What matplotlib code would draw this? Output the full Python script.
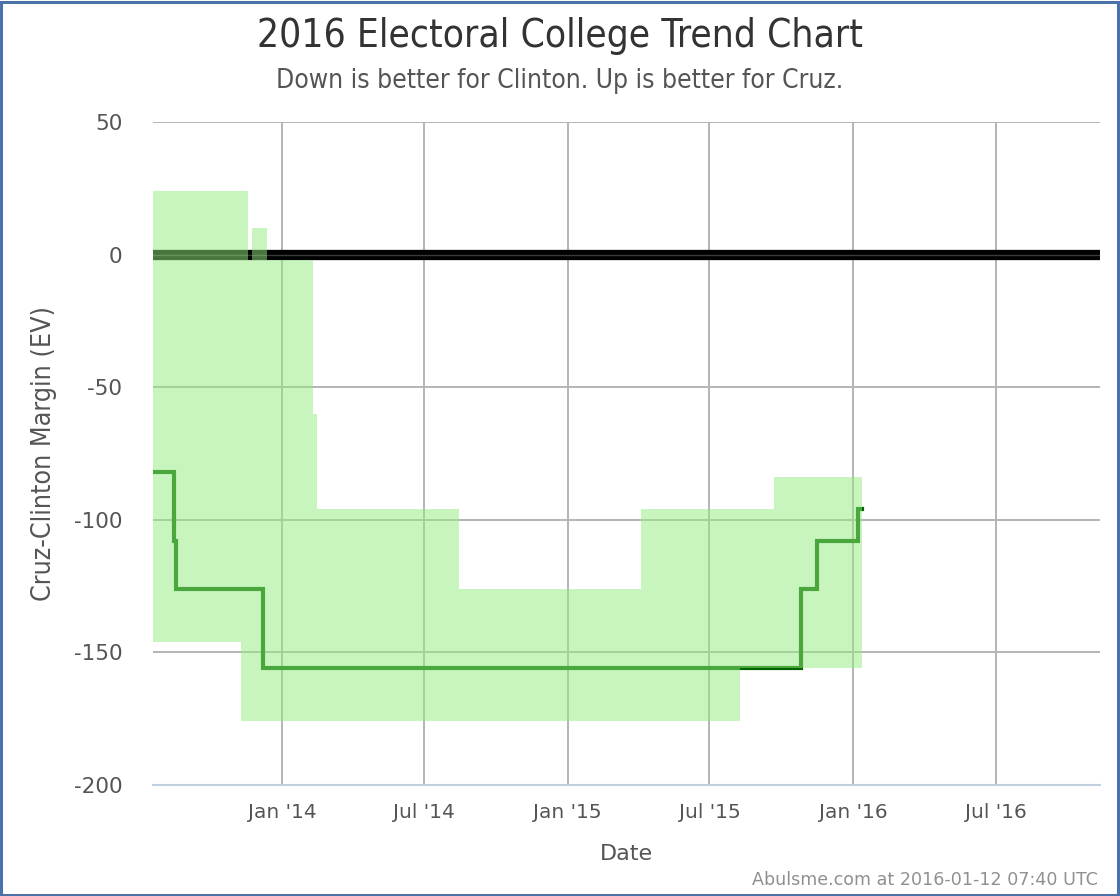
import matplotlib
matplotlib.use("Agg")
import matplotlib.pyplot as plt
from matplotlib.patches import Rectangle
import datetime as dt

# ---- data ----
band_dates = ["2013-07-20", "2013-11-09", "2013-11-19", "2013-11-23", "2013-12-13",
              "2014-02-09", "2014-02-14", "2014-08-15", "2015-04-05", "2015-08-09",
              "2015-09-21", "2016-01-12"]
band_lo = [-146, -176, -176, -176, -176, -176, -176, -176, -176, -156, -156, -156]
band_hi = [24, 24, -2, 10, -2, -60, -96, -126, -96, -96, -84, -84]

line_dates = ["2013-07-20", "2013-08-16", "2013-08-19", "2013-12-07", "2015-10-26",
              "2015-11-15", "2016-01-07", "2016-01-12"]
line_vals = [-82, -108, -126, -156, -126, -108, -96, -96]

tick_dates = ["2014-01-01", "2014-07-01", "2015-01-01", "2015-07-01", "2016-01-01", "2016-07-01"]
tick_labels = ["Jan '14", "Jul '14", "Jan '15", "Jul '15", "Jan '16", "Jul '16"]
y_ticks = [50, 0, -50, -100, -150, -200]

x_start, x_end = "2013-07-20", "2016-11-11"

to_dt = lambda s: dt.datetime.strptime(s, "%Y-%m-%d")
bd = [to_dt(s) for s in band_dates]
ld = [to_dt(s) for s in line_dates]
td = [to_dt(s) for s in tick_dates]

fig = plt.figure(figsize=(11.2, 8.96), dpi=100)
ax = fig.add_axes([153/1120, 1-785/896, (1100-153)/1120, (785-122)/896])

ax.set_xlim(to_dt(x_start), to_dt(x_end))
ax.set_ylim(-200, 50)

# grid
for t in td:
    ax.axvline(t, color="#b4b4b4", lw=1.4, zorder=1)
for y in y_ticks:
    if y != 0:
        ax.axhline(y, color="#b4b4b4", lw=1.4, zorder=1)

# zero line
ax.axhline(0, color="black", lw=7.4, zorder=2)
ax.axhline(0, color="#3a3a3a", lw=1.0, zorder=2.1)

# main line (under band)
ax.step(ld, line_vals, where="post", color="#006400", lw=3.0, zorder=3,
        solid_joinstyle="miter", solid_capstyle="projecting")

# band
ax.fill_between(bd, band_lo, band_hi, step="post", color="#93eb7d", alpha=0.5,
                lw=0, zorder=4)

ax.set_xticks(td)
ax.set_xticklabels(tick_labels)
ax.set_yticks(y_ticks)
ax.set_yticklabels([str(v) for v in y_ticks])
ax.tick_params(axis="both", length=0, labelcolor="#555555")
ax.tick_params(axis="x", pad=13, labelsize=14.5)
ax.tick_params(axis="y", pad=22, labelsize=15.5)

for s in ["left", "right", "top"]:
    ax.spines[s].set_visible(False)
ax.spines["bottom"].set_color("#c0d0e0")
ax.spines["bottom"].set_linewidth(1.5)
ax.spines["bottom"].set_zorder(5)

cond = dict(family="DejaVu Sans", stretch="condensed")
ax.set_xlabel("Date", fontsize=16, color="#555555", labelpad=16)
ax.set_ylabel("Cruz-Clinton Margin (EV)", fontsize=19.3, color="#555555", labelpad=12, **cond)

fig.text(0.5, 1-36/896, "2016 Electoral College Trend Chart", ha="center", va="center",
         fontsize=27.9, color="#333333", **cond)
fig.text(0.5, 1-81/896, "Down is better for Clinton. Up is better for Cruz.", ha="center",
         va="center", fontsize=19, color="#555555", **cond)
fig.text(1098/1120, 1-880/896, "Abulsme.com at 2016-01-12 07:40 UTC", ha="right",
         va="center", fontsize=12.6, color="#909090")

fig.patches.append(Rectangle((0.001, 0.001), 0.997, 0.997, transform=fig.transFigure,
                             fill=False, edgecolor="#4a72a8", lw=2.2))

fig.savefig("out.png", dpi=100)
